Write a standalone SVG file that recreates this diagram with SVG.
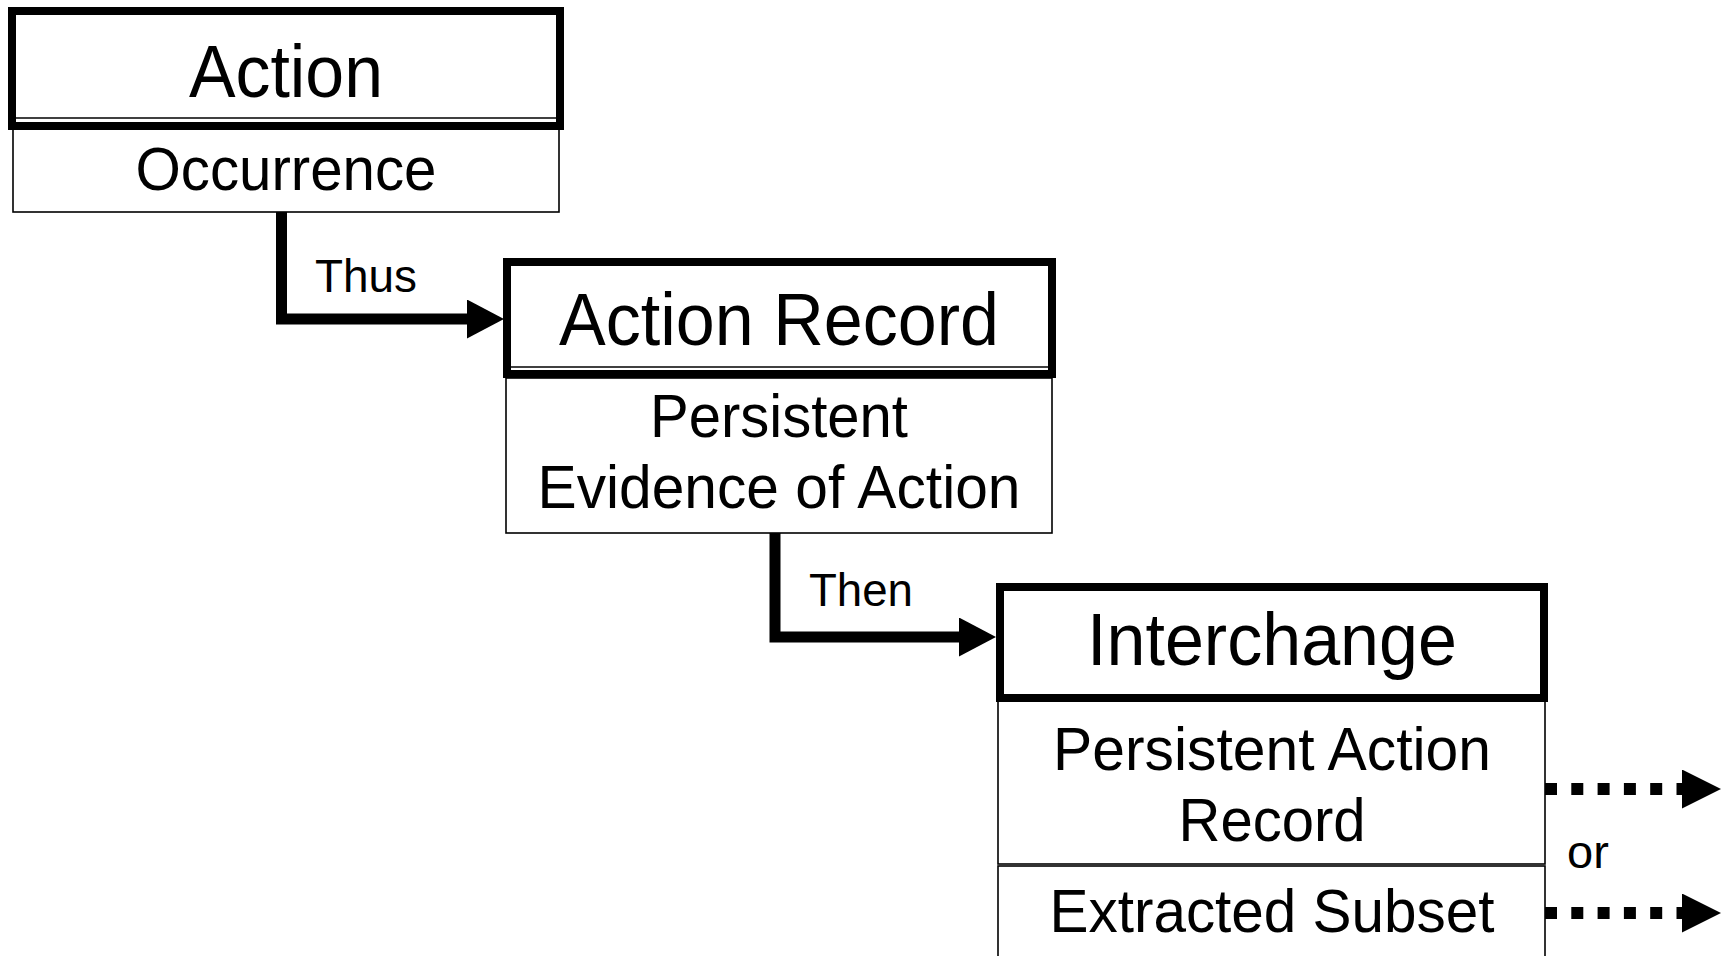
<svg xmlns="http://www.w3.org/2000/svg" width="1724" height="956" viewBox="0 0 1724 956">
<style>
.head{fill:none;stroke:#000;stroke-width:8}
.sub{fill:#fff;stroke:#000;stroke-width:1.6}
.thin{stroke:#000;stroke-width:1.6}
.t{font-family:"Liberation Sans",Arial,sans-serif;fill:#000;text-anchor:middle}
.h{font-size:74px}
.s{font-size:61px}
.l{font-size:47px;text-anchor:start}
.conn{fill:none;stroke:#000;stroke-width:11}
.dot{fill:none;stroke:#000;stroke-width:12;stroke-dasharray:12 14.3}
</style>
<defs>
<marker id="ah" viewBox="0 0 37 39" refX="0" refY="19.5" markerWidth="37" markerHeight="39" markerUnits="userSpaceOnUse" orient="auto">
<polygon points="0,0 37,19.5 0,39" fill="#000"/>
</marker>
<marker id="ah2" viewBox="0 0 39 39" refX="0" refY="19.5" markerWidth="39" markerHeight="39" markerUnits="userSpaceOnUse" orient="auto">
<polygon points="0,0 39,19.5 0,39" fill="#000"/>
</marker>
</defs>
<rect width="1724" height="956" fill="#fff"/>
<g id="connectors">
<path class="conn" d="M281.5,212 V319 H467" marker-end="url(#ah)"/>
<path class="conn" d="M775,533 V637 H959" marker-end="url(#ah)"/>
<path class="dot" d="M1545,789 H1682" marker-end="url(#ah2)"/>
<path class="dot" d="M1545,913 H1682" marker-end="url(#ah2)"/>
<text class="t l" x="315" y="292" textLength="102" lengthAdjust="spacingAndGlyphs">Thus</text>
<text class="t l" x="809" y="606" textLength="104" lengthAdjust="spacingAndGlyphs">Then</text>
<text class="t l" x="1567" y="868">or</text>
</g>
<g id="action">
<rect class="sub" x="13" y="128" width="546" height="84"/>
<rect class="head" x="12" y="11" width="548" height="115"/>
<line class="thin" x1="16" y1="118" x2="556" y2="118"/>
<text class="t h" x="286" y="97" textLength="194" lengthAdjust="spacingAndGlyphs">Action</text>
<text class="t s" x="286" y="190" textLength="301" lengthAdjust="spacingAndGlyphs">Occurrence</text>
</g>
<g id="action-record">
<rect class="sub" x="506" y="378" width="546" height="155"/>
<rect class="head" x="507" y="262" width="545" height="112"/>
<line class="thin" x1="511" y1="367" x2="1048" y2="367"/>
<text class="t h" x="779" y="345" textLength="440" lengthAdjust="spacingAndGlyphs">Action Record</text>
<text class="t s" x="779" y="437" textLength="258" lengthAdjust="spacingAndGlyphs">Persistent</text>
<text class="t s" x="779" y="508" textLength="483" lengthAdjust="spacingAndGlyphs">Evidence of Action</text>
</g>
<g id="interchange">
<rect class="sub" x="998" y="701" width="547" height="163"/>
<rect class="sub" x="998" y="866" width="547" height="110"/>
<rect class="head" x="1000" y="587" width="544" height="111"/>
<text class="t h" x="1272" y="665" textLength="370" lengthAdjust="spacingAndGlyphs">Interchange</text>
<text class="t s" x="1272" y="770" textLength="438" lengthAdjust="spacingAndGlyphs">Persistent Action</text>
<text class="t s" x="1272" y="841" textLength="187" lengthAdjust="spacingAndGlyphs">Record</text>
<text class="t s" x="1272" y="932" textLength="445" lengthAdjust="spacingAndGlyphs">Extracted Subset</text>
</g>
</svg>
